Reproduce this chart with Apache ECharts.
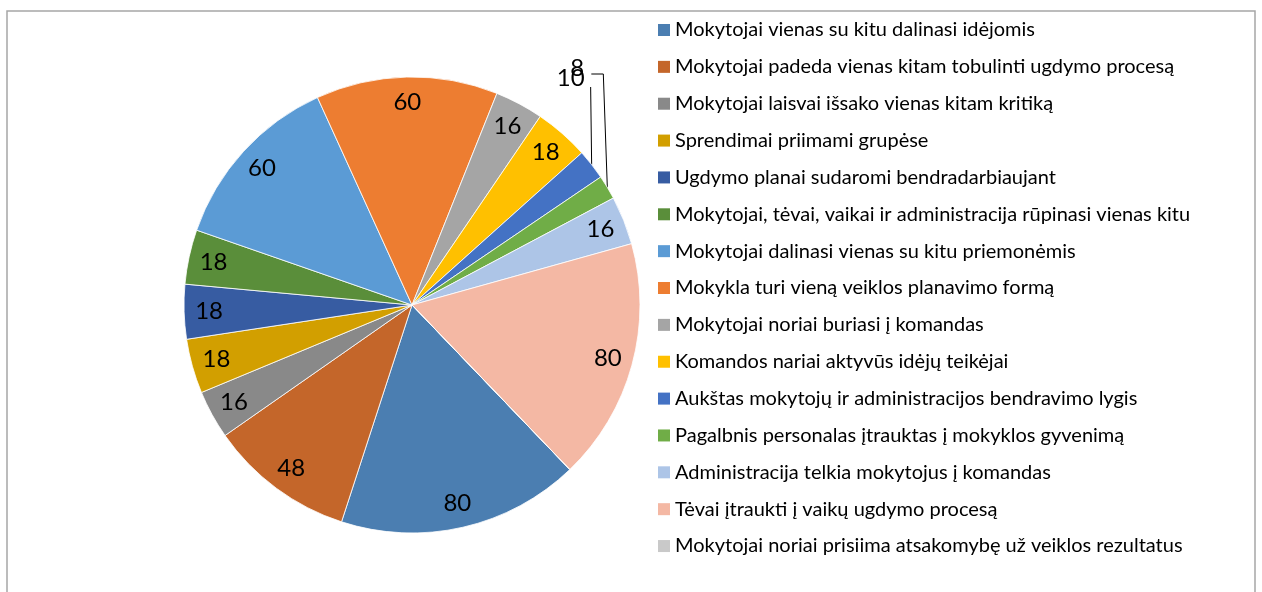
<!DOCTYPE html>
<html>
<head>
<meta charset="utf-8">
<script src="https://cdn.jsdelivr.net/npm/echarts@6/dist/echarts.min.js"></script>
<style>
  html, body { margin: 0; padding: 0; background: #fff; }
  #chart { width: 1262px; height: 592px; }
</style>
</head>
<body>
<div id="chart"></div>
<script>
// kategorijos (legendos tekstai)
var categories = [
    'Mokytojai vienas su kitu dalinasi idėjomis',
    'Mokytojai padeda vienas kitam tobulinti ugdymo procesą',
    'Mokytojai laisvai išsako vienas kitam kritiką',
    'Sprendimai priimami grupėse',
    'Ugdymo planai sudaromi bendradarbiaujant',
    'Mokytojai, tėvai, vaikai ir administracija rūpinasi vienas kitu',
    'Mokytojai dalinasi vienas su kitu priemonėmis',
    'Mokykla turi vieną veiklos planavimo formą',
    'Mokytojai noriai buriasi į komandas',
    'Komandos nariai aktyvūs idėjų teikėjai',
    'Aukštas mokytojų ir administracijos bendravimo lygis',
    'Pagalbnis personalas įtrauktas į mokyklos gyvenimą',
    'Administracija telkia mokytojus į komandas',
    'Tėvai įtraukti į vaikų ugdymo procesą',
    'Mokytojai noriai prisiima atsakomybę už veiklos rezultatus'
];
// reikšmės
var values = [80, 48, 16, 18, 18, 18, 60, 60, 16, 18, 10, 8, 16, 80, 0];

var colors = [
    '#4B7EB1', '#C4662A', '#898989', '#D29F00', '#375CA2', '#5A8E3A',
    '#5B9BD5', '#ED7D31', '#A5A5A5', '#FFC000', '#4472C4', '#70AD47',
    '#ADC5E7', '#F4B8A4', '#C9C9C9'
];

var smallLimit = 10;   // mažesnės skiltys - etiketė išorėje

var chart = echarts.init(document.getElementById('chart'));

var mainData = categories.map(function (n, i) {
    var small = values[i] > 0 && values[i] <= smallLimit;
    return {
        name: n,
        value: values[i],
        label: { show: small },
        labelLine: { show: small }
    };
});

var labelData = categories.map(function (n, i) {
    var small = values[i] <= smallLimit;
    return { name: n, value: values[i], label: { show: !small } };
});

var option = {
    animation: false,
    color: colors,
    graphic: [{
        type: 'rect',
        shape: { x: 7, y: 11, width: 1248, height: 620 },
        style: { fill: 'none', stroke: '#A6A6A6', lineWidth: 1.5 },
        silent: true
    }],
    legend: {
        orient: 'vertical',
        left: 658,
        top: 18,
        padding: 0,
        icon: 'rect',
        itemWidth: 12,
        itemHeight: 12,
        itemGap: 12.86,
        itemStyle: { borderWidth: 0 },
        data: categories,
        textStyle: {
            fontFamily: 'Lato',
            fontSize: 20,
            lineHeight: 24,
            color: '#000'
        },
        selectedMode: false
    },
    series: [{
        type: 'pie',
        center: [412, 305],
        radius: [0, 228],
        startAngle: -46.2,
        clockwise: true,
        data: mainData,
        itemStyle: { borderColor: '#fff', borderWidth: 0.8 },
        emphasis: { disabled: true },
        label: {
            position: 'outside',
            formatter: '{c}',
            fontFamily: 'Lato',
            fontSize: 24,
            color: '#000'
        },
        labelLine: {
            lineStyle: { color: '#000', width: 1 },
            smooth: false
        },
        labelLayout: function (p) {
            var pts = p.labelLinePoints;
            if (!pts || !p.text) return {};
            var p0 = pts[0];
            if (p.dataIndex === 10) {
                return {
                    x: p0[0] - 21, y: 78, align: 'center', verticalAlign: 'middle',
                    labelLinePoints: [p0, [p0[0] - 1, 87], [p0[0] - 1, 87]]
                };
            }
            return {
                x: p0[0] - 30, y: 68, align: 'center', verticalAlign: 'middle',
                labelLinePoints: [p0, [p0[0] - 4, 74], [p0[0] - 16, 74]]
            };
        }
    }, {
        type: 'pie',
        center: [412, 305],
        radius: [172, 228],
        startAngle: -46.2,
        clockwise: true,
        silent: true,
        data: labelData,
        itemStyle: { color: 'rgba(0,0,0,0)' },
        emphasis: { disabled: true },
        label: {
            position: 'inside',
            formatter: '{c}',
            fontFamily: 'Lato',
            fontSize: 24,
            color: '#000'
        },
        labelLine: { show: false }
    }]
};

chart.setOption(option);
</script>
</body>
</html>
